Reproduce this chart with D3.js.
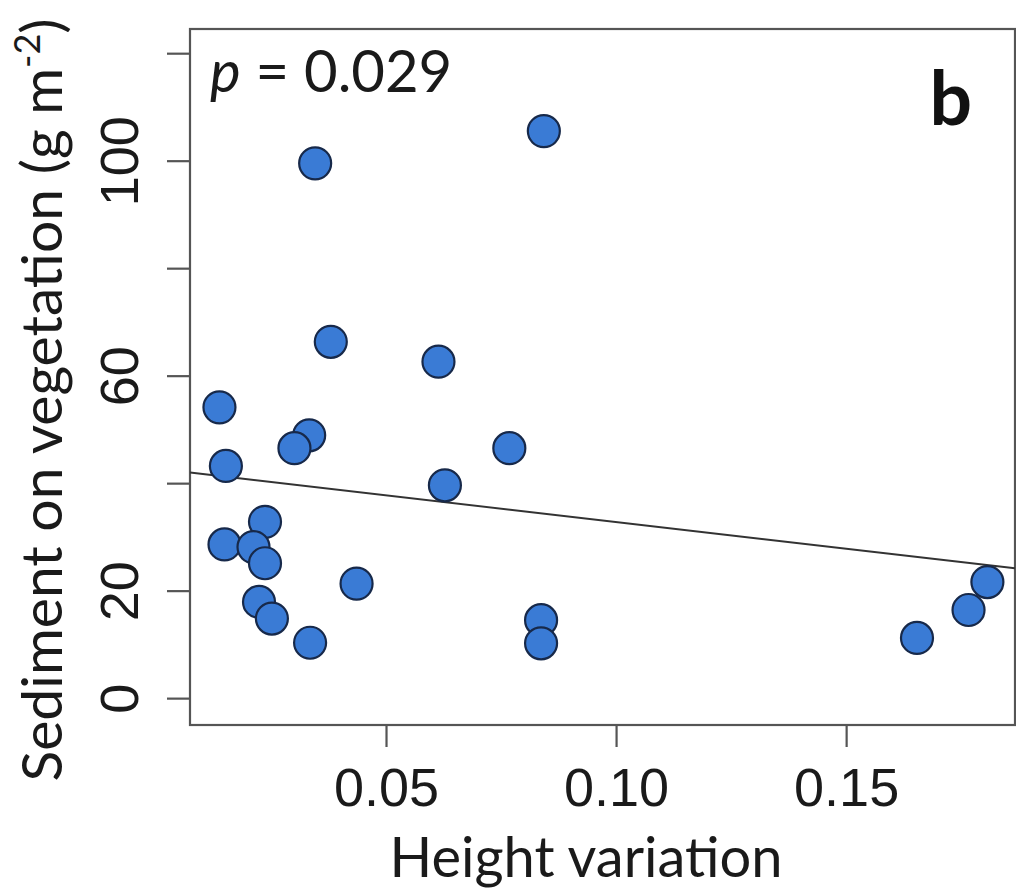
<!DOCTYPE html>
<html>
<head>
<meta charset="utf-8">
<script src="https://cdn.jsdelivr.net/npm/d3@7"></script>
<style>
  html, body { margin: 0; padding: 0; background: #fff; }
  svg { display: block; font-family: Lato, "Open Sans", sans-serif; }
</style>
</head>
<body>
<svg id="chart" width="1016" height="890"></svg>
<script>
// Height variation vs. sediment on vegetation
const heightVariation = [
  0.0138, 0.0333, 0.0301, 0.0152, 0.0237, 0.0149, 0.0212, 0.0237,
  0.0224, 0.0252, 0.0335, 0.0436, 0.0380, 0.0614, 0.0628, 0.0768,
  0.0843, 0.0837, 0.0837, 0.1654, 0.1766, 0.1807, 0.0346
];
const sediment = [
  54.1, 48.9, 46.5, 43.2, 32.8, 28.6, 28.1, 25.1,
  17.9, 14.8, 10.3, 21.3, 66.3, 62.6, 39.6, 46.5,
  105.5, 14.5, 10.2, 11.2, 16.4, 21.6, 99.5
];

// Fitted linear model: sediment = intercept + slope * height variation
const fitIntercept = 42.7;
const fitSlope = -99.3;

const xDomain = [0.0074, 0.1867];
const yDomain = [-5.0, 124.5];
const xTicks = [0.05, 0.10, 0.15];
const xTickLabels = ["0.05", "0.10", "0.15"];
const yTicks = [0, 20, 40, 60, 80, 100, 120];
const yTickLabels = ["0", "20", "", "60", "", "100", ""];

const pText = "0.029";
const panelLabel = "b";

const svg = d3.select("#chart");
const plot = { left: 190, right: 1015, top: 29, bottom: 725 };

const x = d3.scaleLinear().domain(xDomain).range([plot.left, plot.right]);
const y = d3.scaleLinear().domain(yDomain).range([plot.bottom, plot.top]);

const axisColor = "#555";

// Plot frame
svg.append("rect")
  .attr("x", plot.left).attr("y", plot.top)
  .attr("width", plot.right - plot.left).attr("height", plot.bottom - plot.top)
  .attr("fill", "none").attr("stroke", axisColor).attr("stroke-width", 2.2);

// Y axis
const yAxis = d3.axisLeft(y).tickValues(yTicks).tickSize(23)
  .tickFormat((d, i) => yTickLabels[i]);
const gy = svg.append("g").attr("transform", `translate(${plot.left},0)`).call(yAxis);
gy.select(".domain").remove();
gy.selectAll(".tick line").attr("stroke", axisColor).attr("stroke-width", 2.2);
gy.selectAll(".tick text")
  .attr("x", null).attr("dy", null)
  .attr("transform", "translate(-52,0) rotate(-90)")
  .attr("text-anchor", "middle")
  .attr("font-size", 54).attr("fill", "#1a1a1a");

// X axis
const xAxis = d3.axisBottom(x).tickValues(xTicks).tickSize(22)
  .tickFormat((d, i) => xTickLabels[i]);
const gx = svg.append("g").attr("transform", `translate(0,${plot.bottom})`).call(xAxis);
gx.select(".domain").remove();
gx.selectAll(".tick line").attr("stroke", axisColor).attr("stroke-width", 2.2);
gx.selectAll(".tick text")
  .attr("y", 81).attr("dy", null)
  .attr("text-anchor", "middle")
  .attr("font-size", 54).attr("fill", "#1a1a1a");

// Regression line, clipped to the plot frame
svg.append("clipPath").attr("id", "plot-clip")
  .append("rect")
  .attr("x", plot.left).attr("y", plot.top)
  .attr("width", plot.right - plot.left).attr("height", plot.bottom - plot.top);

svg.append("line")
  .attr("clip-path", "url(#plot-clip)")
  .attr("x1", x(xDomain[0])).attr("y1", y(fitIntercept + fitSlope * xDomain[0]))
  .attr("x2", x(xDomain[1])).attr("y2", y(fitIntercept + fitSlope * xDomain[1]))
  .attr("stroke", "#333").attr("stroke-width", 2);

// Points
const points = heightVariation.map((h, i) => ({ h, s: sediment[i] }));
svg.append("g").selectAll("circle")
  .data(points)
  .join("circle")
  .attr("cx", d => x(d.h))
  .attr("cy", d => y(d.s))
  .attr("r", 16)
  .attr("fill", "#3a7bd5")
  .attr("stroke", "#17294a")
  .attr("stroke-width", 2.2);

// p-value annotation
const pLabel = svg.append("text")
  .attr("x", 210).attr("y", 92)
  .attr("font-size", 58).attr("fill", "#1a1a1a");
pLabel.append("tspan").attr("font-style", "italic").text("p");
pLabel.append("tspan").text(" = " + pText);

// Panel letter
svg.append("text")
  .attr("x", 972).attr("y", 125)
  .attr("text-anchor", "end")
  .attr("font-size", 75).attr("font-weight", "bold").attr("fill", "#111")
  .text(panelLabel);

// Axis titles
svg.append("text")
  .attr("x", 586).attr("y", 877)
  .attr("text-anchor", "middle")
  .attr("font-size", 56).attr("fill", "#1a1a1a")
  .text("Height variation");

const yTitle = svg.append("text")
  .attr("transform", "translate(62,400) rotate(-90)")
  .attr("text-anchor", "middle")
  .attr("font-size", 57).attr("fill", "#1a1a1a");
yTitle.append("tspan").text("Sediment on vegetation (g m");
yTitle.append("tspan").attr("font-size", 36).attr("dy", -22).text("-2");
yTitle.append("tspan").attr("dy", 22).text(")");
</script>
</body>
</html>
